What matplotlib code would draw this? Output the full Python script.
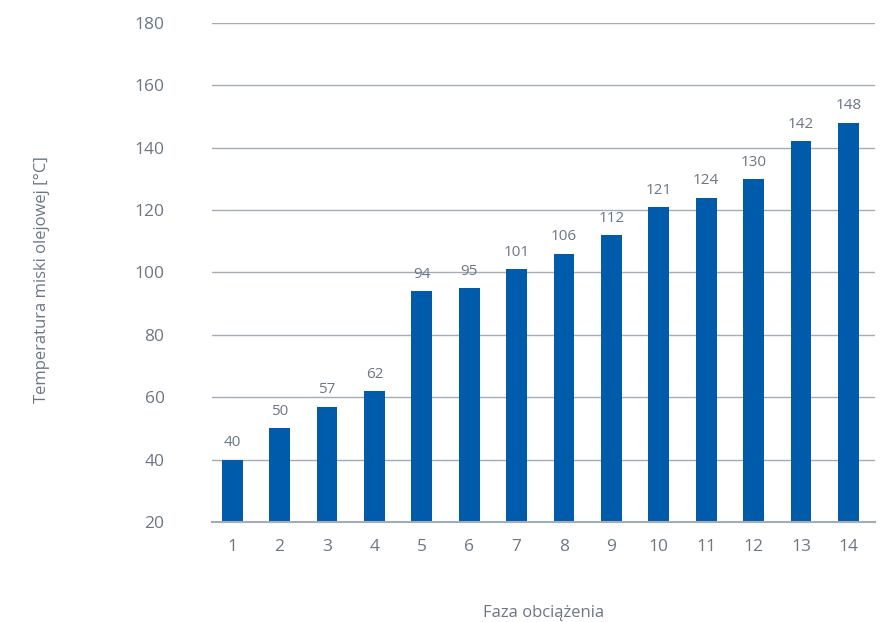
import matplotlib
matplotlib.use('Agg')
import matplotlib.pyplot as plt

# Data
phases = [1, 2, 3, 4, 5, 6, 7, 8, 9, 10, 11, 12, 13, 14]
temps = [40, 50, 57, 62, 94, 95, 101, 106, 112, 121, 124, 130, 142, 148]
y_ticks = [20, 40, 60, 80, 100, 120, 140, 160, 180]

C_BAR = '#005BAA'
C_TEXT = '#6B7785'
C_GRID = '#A3ADB7'

plt.rcParams['font.family'] = ['Open Sans', 'DejaVu Sans']

fig = plt.figure(figsize=(8.9, 6.22), dpi=100)
ax = fig.add_axes([0.238, 0.161, 0.745, 0.802])

ax.bar(phases, temps, width=0.44, color=C_BAR, zorder=3)
for x, v in zip(phases, temps):
    ax.text(x, v + 3, str(v), ha='center', va='bottom', fontsize=11, color=C_TEXT)

ax.set_ylim(20, 180)
ax.set_xlim(0.57, 14.56)
ax.set_yticks(y_ticks)
ax.set_xticks(phases)
ax.grid(axis='y', color=C_GRID, linewidth=1.0, zorder=0)
ax.grid(axis='x', visible=False)
ax.axhline(20, color=C_GRID, linewidth=1.5, zorder=4, clip_on=False)
for s in ax.spines.values():
    s.set_visible(False)
ax.tick_params(axis='both', length=0, colors=C_TEXT, labelsize=12.5)
ax.tick_params(axis='y', pad=34)
ax.tick_params(axis='x', pad=12)

ax.set_xlabel('Faza obciążenia', fontsize=12, color=C_TEXT, labelpad=36)
fig.text(0.047, 0.55, 'Temperatura miski olejowej [°C]', rotation=90,
         ha='center', va='center', fontsize=12, color=C_TEXT)

fig.savefig('out.png', dpi=100)
